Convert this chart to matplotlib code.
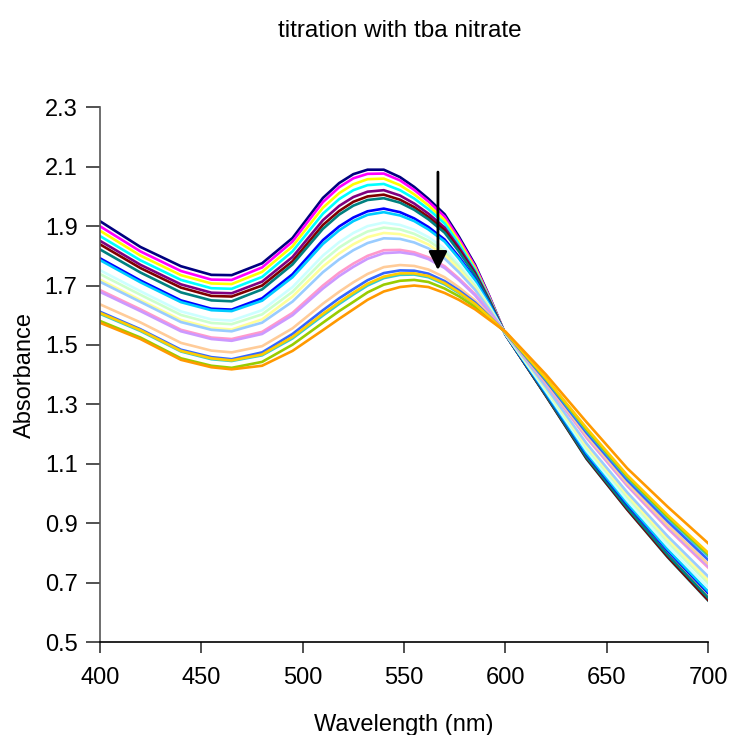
import matplotlib
matplotlib.use("Agg")
import matplotlib.pyplot as plt

plt.rcParams['font.family'] = ['Liberation Sans', 'DejaVu Sans']

wavelength = [400, 420, 440, 455, 465, 480, 495, 510, 518, 525, 532, 540, 548,
              555, 562, 570, 577, 585, 592, 600, 620, 640, 660, 680, 700]

# one spectrum per addition of tba nitrate (Excel default series colours)
colors = ['#000080', '#FF00FF', '#FFFF00', '#00FFFF', '#800080', '#800000',
          '#008080', '#0000FF', '#00CCFF', '#CCFFFF', '#CCFFCC', '#FFFF99',
          '#99CCFF', '#FF99CC', '#CC99FF', '#FFCC99', '#3366FF', '#33CCCC',
          '#99CC00', '#FFCC00', '#FF9900']

spectra = [
    [1.917, 1.830, 1.765, 1.736, 1.735, 1.775, 1.860, 1.995, 2.045, 2.075, 2.090, 2.090, 2.065, 2.032, 1.992, 1.940, 1.865, 1.770, 1.665, 1.535, 1.330, 1.120, 0.950, 0.790, 0.645],
    [1.900, 1.815, 1.749, 1.720, 1.719, 1.761, 1.848, 1.981, 2.031, 2.061, 2.076, 2.077, 2.054, 2.022, 1.983, 1.932, 1.858, 1.765, 1.663, 1.535, 1.331, 1.122, 0.952, 0.793, 0.648],
    [1.885, 1.801, 1.735, 1.707, 1.705, 1.746, 1.832, 1.962, 2.011, 2.041, 2.058, 2.060, 2.038, 2.007, 1.970, 1.920, 1.849, 1.759, 1.659, 1.535, 1.332, 1.123, 0.954, 0.794, 0.650],
    [1.867, 1.785, 1.719, 1.691, 1.689, 1.729, 1.815, 1.942, 1.991, 2.021, 2.038, 2.042, 2.021, 1.993, 1.957, 1.909, 1.840, 1.752, 1.656, 1.535, 1.328, 1.116, 0.946, 0.785, 0.639],
    [1.851, 1.770, 1.704, 1.676, 1.674, 1.713, 1.796, 1.920, 1.968, 1.998, 2.016, 2.021, 2.003, 1.976, 1.942, 1.895, 1.829, 1.745, 1.652, 1.535, 1.330, 1.120, 0.950, 0.790, 0.645],
    [1.839, 1.759, 1.693, 1.665, 1.663, 1.700, 1.782, 1.904, 1.951, 1.982, 2.000, 2.006, 1.989, 1.964, 1.931, 1.886, 1.821, 1.739, 1.649, 1.535, 1.328, 1.117, 0.946, 0.786, 0.640],
    [1.822, 1.744, 1.677, 1.650, 1.647, 1.687, 1.771, 1.891, 1.939, 1.969, 1.988, 1.994, 1.979, 1.955, 1.923, 1.878, 1.815, 1.735, 1.646, 1.535, 1.331, 1.122, 0.952, 0.793, 0.648],
    [1.792, 1.717, 1.650, 1.622, 1.619, 1.657, 1.738, 1.853, 1.899, 1.929, 1.950, 1.959, 1.947, 1.926, 1.897, 1.855, 1.797, 1.722, 1.639, 1.536, 1.337, 1.132, 0.964, 0.807, 0.664],
    [1.786, 1.711, 1.644, 1.617, 1.614, 1.649, 1.728, 1.840, 1.886, 1.917, 1.938, 1.947, 1.936, 1.917, 1.889, 1.848, 1.791, 1.718, 1.637, 1.536, 1.339, 1.136, 0.968, 0.812, 0.670],
    [1.752, 1.681, 1.613, 1.586, 1.582, 1.617, 1.695, 1.801, 1.846, 1.877, 1.900, 1.912, 1.904, 1.888, 1.863, 1.825, 1.772, 1.705, 1.630, 1.537, 1.344, 1.144, 0.977, 0.823, 0.682],
    [1.739, 1.669, 1.601, 1.574, 1.570, 1.603, 1.679, 1.783, 1.828, 1.858, 1.882, 1.895, 1.889, 1.874, 1.851, 1.814, 1.764, 1.699, 1.627, 1.538, 1.350, 1.153, 0.988, 0.836, 0.697],
    [1.720, 1.651, 1.584, 1.557, 1.552, 1.586, 1.663, 1.764, 1.808, 1.839, 1.863, 1.877, 1.873, 1.860, 1.838, 1.802, 1.755, 1.692, 1.624, 1.538, 1.354, 1.160, 0.996, 0.846, 0.708],
    [1.713, 1.645, 1.577, 1.551, 1.546, 1.575, 1.646, 1.745, 1.788, 1.819, 1.843, 1.859, 1.857, 1.845, 1.825, 1.791, 1.745, 1.686, 1.620, 1.539, 1.358, 1.168, 1.004, 0.856, 0.720],
    [1.685, 1.620, 1.551, 1.525, 1.520, 1.544, 1.608, 1.700, 1.743, 1.774, 1.800, 1.819, 1.820, 1.812, 1.795, 1.765, 1.724, 1.671, 1.612, 1.541, 1.369, 1.187, 1.026, 0.882, 0.750],
    [1.679, 1.614, 1.546, 1.520, 1.514, 1.537, 1.600, 1.690, 1.732, 1.763, 1.790, 1.809, 1.812, 1.805, 1.789, 1.759, 1.719, 1.667, 1.610, 1.541, 1.371, 1.191, 1.029, 0.887, 0.755],
    [1.637, 1.576, 1.507, 1.481, 1.475, 1.496, 1.556, 1.639, 1.679, 1.711, 1.739, 1.762, 1.769, 1.766, 1.754, 1.728, 1.694, 1.650, 1.601, 1.541, 1.374, 1.195, 1.035, 0.893, 0.762],
    [1.612, 1.553, 1.484, 1.459, 1.452, 1.475, 1.537, 1.617, 1.657, 1.688, 1.718, 1.742, 1.751, 1.750, 1.740, 1.715, 1.684, 1.643, 1.597, 1.542, 1.379, 1.204, 1.045, 0.906, 0.776],
    [1.605, 1.547, 1.478, 1.452, 1.446, 1.465, 1.522, 1.599, 1.638, 1.670, 1.700, 1.725, 1.736, 1.737, 1.728, 1.704, 1.675, 1.637, 1.594, 1.543, 1.384, 1.212, 1.054, 0.917, 0.789],
    [1.581, 1.525, 1.455, 1.430, 1.423, 1.443, 1.501, 1.575, 1.614, 1.645, 1.677, 1.703, 1.716, 1.719, 1.712, 1.690, 1.664, 1.628, 1.590, 1.543, 1.386, 1.216, 1.058, 0.922, 0.795],
    [1.608, 1.550, 1.480, 1.455, 1.448, 1.468, 1.527, 1.605, 1.644, 1.676, 1.706, 1.730, 1.741, 1.741, 1.732, 1.708, 1.678, 1.638, 1.595, 1.543, 1.388, 1.220, 1.062, 0.927, 0.800],
    [1.575, 1.520, 1.450, 1.425, 1.418, 1.430, 1.480, 1.550, 1.588, 1.620, 1.652, 1.680, 1.695, 1.700, 1.695, 1.675, 1.652, 1.620, 1.585, 1.545, 1.400, 1.240, 1.085, 0.955, 0.832],
]

arrow_x = 566.7
arrow_from = 2.082
arrow_to = 1.752

fig = plt.figure(figsize=(7.34, 7.35), dpi=100)
ax = fig.add_axes([0.136, 0.1265, 0.829, 0.7275])

for spec, c in zip(spectra, colors):
    ax.plot(wavelength, spec, color=c, lw=1.9)

ax.annotate('', xy=(arrow_x, arrow_to), xytext=(arrow_x, arrow_from),
            arrowprops=dict(arrowstyle='-|>', color='black', lw=2,
                            mutation_scale=28, shrinkA=0, shrinkB=0))

ax.set_xlim(400, 700)
ax.set_ylim(0.5, 2.3)
ax.set_xticks([400, 450, 500, 550, 600, 650, 700])
ax.set_yticks([0.5, 0.7, 0.9, 1.1, 1.3, 1.5, 1.7, 1.9, 2.1, 2.3])
ax.set_yticklabels(['0.5', '0.7', '0.9', '1.1', '1.3', '1.5', '1.7', '1.9', '2.1', '2.3'])
ax.tick_params(axis='both', direction='out', labelsize=17, width=1.2, color='#333333')
ax.tick_params(axis='y', length=10, pad=6)
ax.tick_params(axis='x', length=8, pad=10)
for s in ['top', 'right']:
    ax.spines[s].set_visible(False)
for s in ['left', 'bottom']:
    ax.spines[s].set_linewidth(1.2)
ax.spines['left'].set_color('#555555')

ax.set_xlabel('Wavelength (nm)', fontsize=17, labelpad=18)
ax.set_ylabel('Absorbance', fontsize=17, labelpad=6)
fig.text(0.545, 0.958, 'titration with tba nitrate', fontsize=17.5,
         ha='center', va='center')

fig.savefig('out.png', dpi=100)
